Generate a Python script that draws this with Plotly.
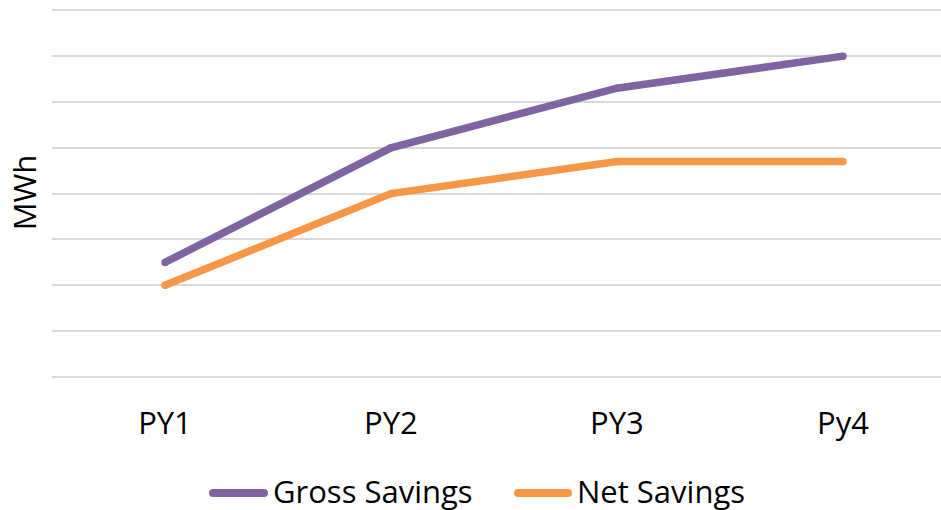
import plotly.graph_objects as go

categories = ["PY1", "PY2", "PY3", "Py4"]
gross_savings = [2.5, 5.0, 6.3, 7.0]
net_savings = [2.0, 4.0, 4.7, 4.7]
series_names = ["Gross Savings", "Net Savings"]

FONT = "Open Sans"
FS = 31
PURPLE = "#8064A2"
ORANGE = "#F79646"
colors = [PURPLE, ORANGE]

W, H = 941, 510
ML, MR, MT, MB = 52, 0, 8, 133
PW, PH = W - ML - MR, H - MT - MB


def px_x(px):
    return (px - ML) / PW


def px_y(py):
    return (H - MB - py) / PH


fig = go.Figure()
for name, vals, col in zip(series_names, [gross_savings, net_savings], colors):
    fig.add_trace(go.Scatter(
        x=categories, y=vals, name=name, mode="lines+markers",
        line=dict(color=col, width=7.5), marker=dict(color=col, size=7.5),
        showlegend=False,
    ))

# custom legend (long line symbols like the original)
legend_items = [(209, 268, 271), (514, 572, 575)]
shapes = []
annotations = []
for (x0, x1, tx), name, col in zip(legend_items, series_names, colors):
    shapes.append(dict(type="line", xref="paper", yref="paper",
                       x0=px_x(x0 + 4), x1=px_x(x1 - 4), y0=px_y(493), y1=px_y(493),
                       line=dict(color=col, width=8)))
    for cx in (x0 + 4, x1 - 4):
        shapes.append(dict(type="circle", xref="paper", yref="paper",
                           x0=px_x(cx - 4), x1=px_x(cx + 4),
                           y0=px_y(493 + 4), y1=px_y(493 - 4),
                           fillcolor=col, line=dict(width=0)))
    annotations.append(dict(text=name, xref="paper", yref="paper", x=px_x(tx), y=px_y(491),
                            xanchor="left", yanchor="middle", showarrow=False,
                            font=dict(family=FONT, size=FS, color="black")))

fig.update_layout(
    width=W, height=H,
    margin=dict(l=ML, r=MR, t=MT, b=MB, autoexpand=False),
    paper_bgcolor="white", plot_bgcolor="white",
    font=dict(family=FONT, size=FS, color="black"),
    showlegend=False,
    shapes=shapes, annotations=annotations,
    xaxis=dict(type="category", range=[-0.5, 3.434], showgrid=False, zeroline=False,
               showline=False, ticks="", ticklabelstandoff=25,
               tickfont=dict(size=FS)),
    yaxis=dict(range=[0, 8.05], dtick=1, showgrid=True, gridcolor="#D9D9D9", gridwidth=1.6,
               zeroline=True, zerolinecolor="#D9D9D9", zerolinewidth=1.6,
               showline=False, showticklabels=False, ticks="",
               title=dict(text="MWh", font=dict(size=FS), standoff=5)),
)

fig.write_html("out.html", config={"displayModeBar": False},
               post_script="document.body.style.margin='0';")
